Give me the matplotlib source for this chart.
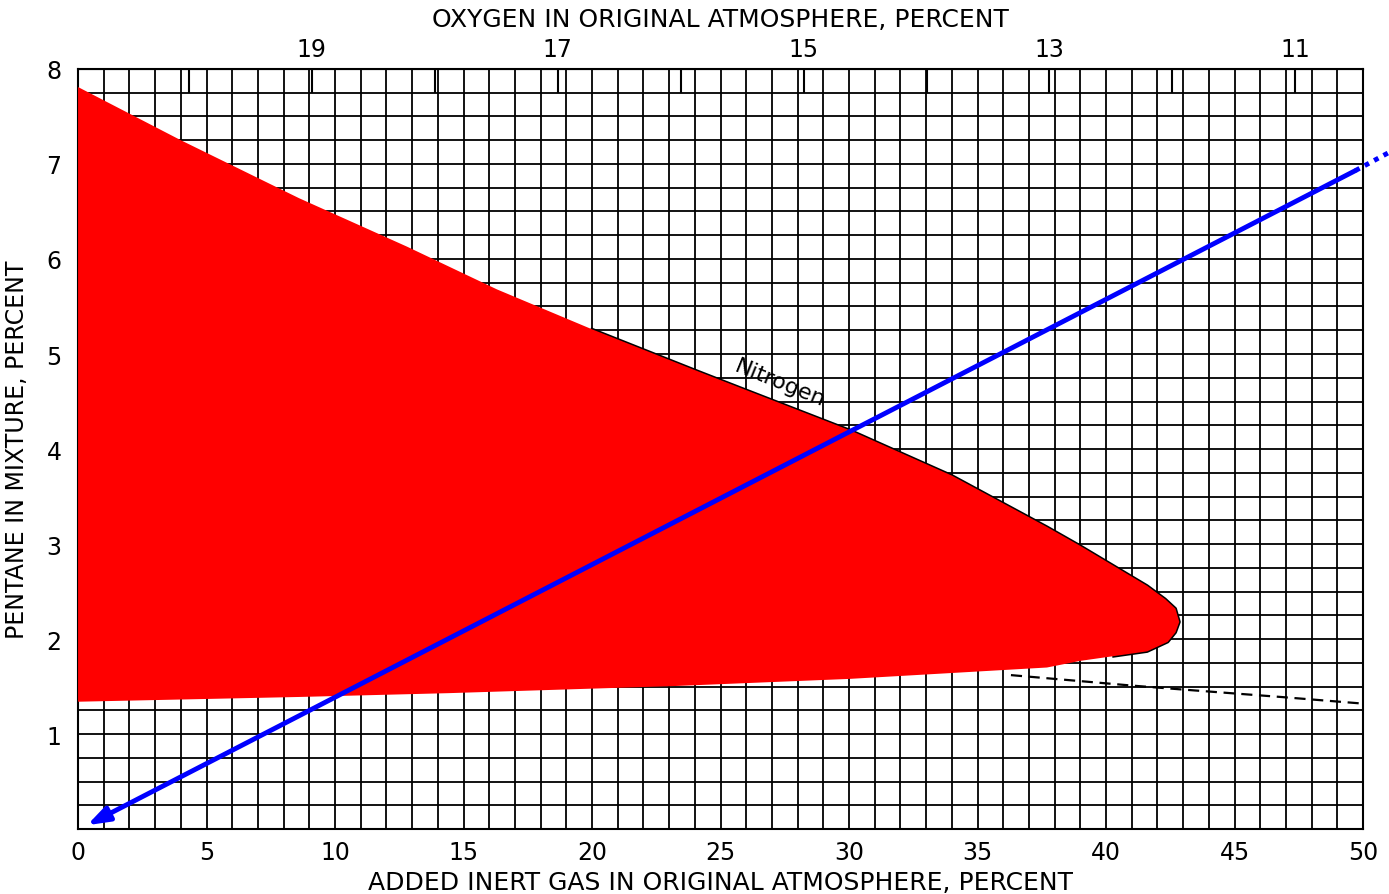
import numpy as np
import matplotlib.pyplot as plt
from matplotlib.ticker import MultipleLocator, FixedLocator

# flammable zone for pentane with added nitrogen
upper_x = [0, 4.0, 8.6, 12.8, 16.3, 20.0, 24.1, 26.0, 30.1, 34.0, 37.7, 39.0, 40.3, 41.6, 42.3, 42.7, 42.85]
upper_y = [7.81, 7.25, 6.64, 6.13, 5.68, 5.26, 4.82, 4.62, 4.19, 3.72, 3.18, 2.98, 2.77, 2.56, 2.42, 2.32, 2.18]
lower_x = [42.7, 42.4, 41.6, 40.3, 39.0, 37.7, 30.0, 23.2, 14.4, 8.6, 0]
lower_y = [2.07, 1.97, 1.87, 1.82, 1.77, 1.70, 1.58, 1.505, 1.43, 1.39, 1.34]

# dashed extension of the lower limit
dash_x = [36.3, 41.0, 42.9, 46.8, 50.0]
dash_y = [1.62, 1.51, 1.47, 1.39, 1.32]

# blue arrow (start -> tip) and dotted continuation
arrow_start = (49.7, 6.93)
arrow_tip = (0.35, 0.04)
dot_x = [49.7, 51.0]
dot_y = [6.93, 7.12]

x_ticks = [0, 5, 10, 15, 20, 25, 30, 35, 40, 45, 50]
y_ticks = [1, 2, 3, 4, 5, 6, 7, 8]
o2_major = [11, 13, 15, 17, 19]
o2_minor = [12, 14, 16, 18, 20]

fig = plt.figure(figsize=(13.89, 8.95), dpi=100)
ax = fig.add_axes([0.0562, 0.0726, 0.9251, 0.8492])
ax.set_xlim(0, 50)
ax.set_ylim(0, 8)

# graph-paper grid
ax.xaxis.set_minor_locator(MultipleLocator(1))
ax.yaxis.set_minor_locator(MultipleLocator(0.25))
ax.grid(which='both', color='black', linewidth=1.3, zorder=1)
ax.set_axisbelow(True)
for s in ax.spines.values():
    s.set_linewidth(1.5)

ax.set_xticks(x_ticks)
ax.set_yticks(y_ticks)
ax.tick_params(which='both', length=0, labelsize=17)
ax.tick_params(axis='x', pad=8)
ax.tick_params(axis='y', pad=12)

# thin black outline peeking out from under the red fill
ox = upper_x[5:] + lower_x[:4]
oy = upper_y[5:] + lower_y[:4]
ax.plot(ox, oy, color='black', linewidth=2.2, zorder=2, solid_joinstyle='round')

ax.fill(upper_x + lower_x, upper_y + lower_y, color='#ff0000', linewidth=0, zorder=3)
ax.plot(dash_x, dash_y, color='black', linestyle=(0, (5, 3)), linewidth=1.6, zorder=3)

ax.text(27.3, 4.70, 'Nitrogen', rotation=-22, fontsize=16, ha='center', va='center', zorder=4)

ax.annotate('', xy=arrow_tip, xytext=arrow_start,
            arrowprops=dict(arrowstyle='-|>,head_length=1.3,head_width=0.45',
                            color='#0000ff', lw=3.5, shrinkA=0, shrinkB=0),
            zorder=5)
ax.plot(dot_x, dot_y, color='#0000ff', linestyle=(0, (1, 1.2)), linewidth=3.5,
        clip_on=False, zorder=5)

ax.set_xlabel('ADDED INERT GAS IN ORIGINAL ATMOSPHERE, PERCENT', fontsize=18, labelpad=4)
ax.set_ylabel('PENTANE IN MIXTURE, PERCENT', fontsize=17, labelpad=12)

# top axis: oxygen left in the atmosphere
top = ax.secondary_xaxis('top', functions=(lambda x: 20.9 * (1 - x / 100.0),
                                           lambda o: 100.0 * (1 - o / 20.9)))
top.xaxis.set_major_locator(FixedLocator(o2_major))
top.xaxis.set_minor_locator(FixedLocator(o2_minor))
top.tick_params(which='both', direction='in', length=17, width=1.5, labelsize=17, pad=6)
top.set_xlabel('OXYGEN IN ORIGINAL ATMOSPHERE, PERCENT', fontsize=18, labelpad=8)

fig.savefig('out.png', dpi=100)
